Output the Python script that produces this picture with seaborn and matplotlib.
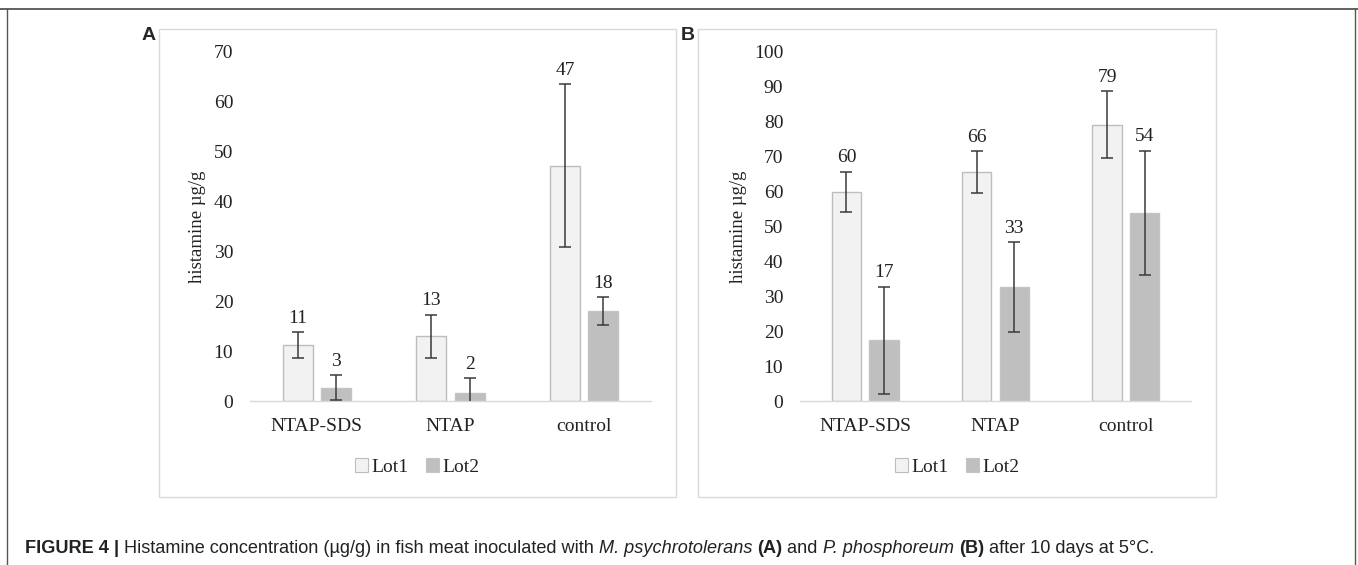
import matplotlib
matplotlib.use("Agg")
import matplotlib.pyplot as plt
from matplotlib.patches import Rectangle, Patch
from matplotlib.lines import Line2D
import seaborn as sns
import pandas as pd

# ---------------- data ----------------
categories = ["NTAP-SDS", "NTAP", "control"]
lots = ["Lot1", "Lot2"]

a_lot1 = [11.2, 13.0, 47.2]
a_lot2 = [2.7, 1.6, 18.0]
a_lot1_err = [2.6, 4.3, 16.3]
a_lot2_err = [2.5, 3.0, 2.8]

b_lot1 = [59.9, 65.6, 79.1]
b_lot2 = [17.4, 32.6, 53.9]
b_lot1_err = [5.8, 6.0, 9.6]
b_lot2_err = [15.3, 12.9, 17.8]

a_ticks = [0, 10, 20, 30, 40, 50, 60, 70]
b_ticks = [0, 10, 20, 30, 40, 50, 60, 70, 80, 90, 100]

ylabel = "histamine µg/g"
caption_parts = [
    ("FIGURE 4", "bold", "normal"),
    (" | ", "bold", "normal"),
    ("Histamine concentration (µg/g) in fish meat inoculated with ", "normal", "normal"),
    ("M. psychrotolerans", "normal", "italic"),
    (" ", "normal", "normal"),
    ("(A)", "bold", "normal"),
    (" and ", "normal", "normal"),
    ("P. phosphoreum", "normal", "italic"),
    (" ", "normal", "normal"),
    ("(B)", "bold", "normal"),
    (" after 10 days at 5°C.", "normal", "normal"),
]

# ---------------- style ----------------
sns.set_theme(style="white")
plt.rcParams["font.family"] = ["Liberation Serif", "DejaVu Serif"]

W, H = 1358, 565
fig = plt.figure(figsize=(W / 100, H / 100), dpi=100)

def fx(px):
    return px / W

def fy(py):
    return 1 - py / H

c_lot1 = "#f2f2f2"
c_lot2 = "#bfbfbf"
edge1 = "#bdbdbd"
edge2 = "#c4c4c4"
box_col = "#d9d9d9"
fs = 14


def panel(ax, v1, v2, e1, e2, ticks, ymax):
    df = pd.DataFrame({
        "cat": categories * 2,
        "lot": [lots[0]] * 3 + [lots[1]] * 3,
        "val": list(v1) + list(v2),
    })
    sns.barplot(data=df, x="cat", y="val", hue="lot", order=categories,
                hue_order=lots, palette=[c_lot1, c_lot2], width=0.576,
                gap=0.22, errorbar=None, legend=False, ax=ax,
                saturation=1, linewidth=1.0)
    for cont, col in zip(ax.containers, [edge1, edge2]):
        for p in cont.patches:
            p.set_edgecolor(col)
    errs = [e1, e2]
    for cont, err in zip(ax.containers, errs):
        for p, e in zip(cont.patches, err):
            xc = p.get_x() + p.get_width() / 2
            h = p.get_height()
            ax.errorbar(xc, h, yerr=e, fmt="none", ecolor="#3a3a3a",
                        elinewidth=1.1, capsize=4.5, capthick=1.1, zorder=5)
            ax.annotate(f"{round(h):d}", (xc, h + e), xytext=(0, 4),
                        textcoords="offset points", ha="center", va="bottom",
                        fontsize=fs, color="#222222", annotation_clip=False)
    ax.set_ylim(0, ymax)
    ax.set_xlim(-0.5, 2.5)
    ax.set_yticks(ticks)
    ax.set_yticklabels([str(t) for t in ticks], fontsize=fs, color="#222222")
    ax.set_xlabel("")
    ax.set_ylabel("")
    ax.tick_params(axis="x", length=0, pad=12, labelsize=fs, labelcolor="#222222")
    ax.tick_params(axis="y", length=0, pad=12)
    for s in ["top", "right", "left"]:
        ax.spines[s].set_visible(False)
    ax.spines["bottom"].set_color(box_col)
    ax.spines["bottom"].set_linewidth(1.0)
    ax.set_facecolor("none")
    ax.grid(False)


axA = fig.add_axes([fx(250), fy(401), fx(401), (401 - 52) / H])
axB = fig.add_axes([fx(800), fy(401), fx(391), (401 - 52) / H])
panel(axA, a_lot1, a_lot2, a_lot1_err, a_lot2_err, a_ticks, 70)
panel(axB, b_lot1, b_lot2, b_lot1_err, b_lot2_err, b_ticks, 100)

# panel boxes
for x0, x1 in [(159, 676), (698, 1216)]:
    fig.patches.append(Rectangle((fx(x0), fy(497)), fx(x1 - x0), (497 - 29) / H,
                                 transform=fig.transFigure, fill=False,
                                 edgecolor=box_col, linewidth=1.0, zorder=0))

# y labels
for xpx in [198, 739]:
    fig.text(fx(xpx), fy(227), ylabel, rotation=90, ha="center", va="center",
             fontsize=13.5, color="#222222")

# legends
handles = [Patch(facecolor=c_lot1, edgecolor=edge1, linewidth=0.8, label=lots[0]),
           Patch(facecolor=c_lot2, edgecolor=edge2, linewidth=0.8, label=lots[1])]
for xc in [417, 957]:
    fig.legend(handles=handles, loc="center", bbox_to_anchor=(fx(xc), fy(467)),
               ncol=2, frameon=False, fontsize=fs, handlelength=0.7,
               handleheight=0.7, handletextpad=0.15, columnspacing=0.9,
               labelcolor="#222222")

# panel letters
fig.text(fx(149), fy(35), "A", ha="center", va="center", fontsize=14,
         fontweight="bold", family=["Liberation Sans", "DejaVu Sans"])
fig.text(fx(688), fy(35), "B", ha="center", va="center", fontsize=14,
         fontweight="bold", family=["Liberation Sans", "DejaVu Sans"])

# outer frame
frame_col = "#555555"
fig.add_artist(Line2D([0, 1], [fy(9), fy(9)], transform=fig.transFigure,
                      color=frame_col, linewidth=1.3))
fig.add_artist(Line2D([fx(7), fx(7)], [fy(9), 0], transform=fig.transFigure,
                      color=frame_col, linewidth=1.0))
fig.add_artist(Line2D([fx(1355), fx(1355)], [fy(9), 0], transform=fig.transFigure,
                      color=frame_col, linewidth=1.0))

# caption
fig.canvas.draw()
renderer = fig.canvas.get_renderer()
cap_fs = 12.5
target_w = 1157 - 25
def place(fsz, draw=True):
    x = fx(25)
    arts = []
    for txt, wt, st in caption_parts:
        t = fig.text(x, fy(553), txt, ha="left", va="baseline", fontsize=fsz,
                     fontweight=wt, fontstyle=st, color="#222222",
                     family=["Liberation Sans", "DejaVu Sans"])
        bb = t.get_window_extent(renderer=renderer)
        x = bb.x1 / W
        arts.append(t)
    return arts, x * W - 25

arts, w = place(cap_fs)
for a in arts:
    a.remove()
cap_fs = cap_fs * target_w / w
arts, w = place(cap_fs)

fig.savefig("out.png", dpi=100)
